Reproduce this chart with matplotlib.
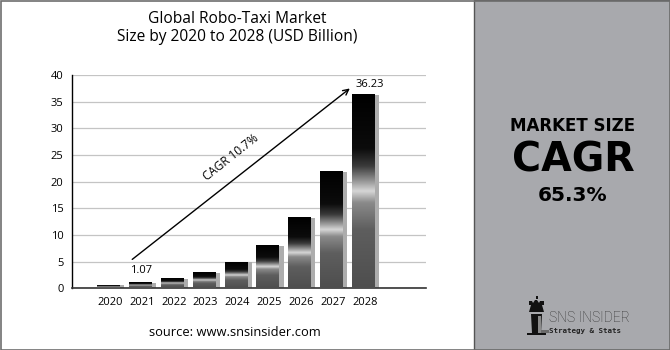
import matplotlib
matplotlib.use("Agg")
import matplotlib.pyplot as plt
import numpy as np
from matplotlib.colors import LinearSegmentedColormap
from matplotlib.patches import Rectangle, Polygon

years = ["2020", "2021", "2022", "2023", "2024", "2025", "2026", "2027", "2028"]
values = [0.55, 1.07, 1.8, 2.95, 4.85, 7.95, 13.2, 21.8, 36.23]
yticks = [0, 5, 10, 15, 20, 25, 30, 35, 40]

plt.rcParams['font.family'] = ['Open Sans', 'DejaVu Sans']

fig = plt.figure(figsize=(6.7, 3.5), dpi=100)
fig.patch.set_facecolor("white")

# right panel
fig.patches.append(Rectangle((474/670, 0), 1 - 474/670, 1, transform=fig.transFigure,
                             facecolor="#a8a9ad", edgecolor="#555555", lw=1.0, zorder=0))
# outer border
fig.patches.append(Rectangle((0.5/670, 0.5/350), 669/670, 349/350, transform=fig.transFigure,
                             facecolor="none", edgecolor="#6e6e6e", lw=1.2, zorder=5))

ax = fig.add_axes([72/670, 61.7/350, 354/670, (275 - 61.7)/350])
ax.set_yticks(yticks)
ax.set_yticklabels([str(t) for t in yticks], fontsize=8)
ax.grid(axis="y", color="#c4c4c4", lw=0.9)
ax.set_axisbelow(True)
for s in ["top", "right"]:
    ax.spines[s].set_visible(False)
ax.spines["left"].set_color("black")
ax.spines["left"].set_linewidth(1.0)
ax.spines["bottom"].set_color("#333333")
ax.spines["bottom"].set_linewidth(1.2)
ax.tick_params(length=0, pad=6)

x = np.arange(len(years))
ax.set_xticks(x + 0.06)
ax.set_xticklabels(years, fontsize=8)

# shadows
ax.bar(x + 0.16, values, width=0.69, color="#adadad", zorder=2)

cmap = LinearSegmentedColormap.from_list("cyl", [
    (0.0, "#4e4e4e"), (0.3, "#5e5e5e"), (0.44, "#8a8a8a"), (0.5, "#d6d6d6"),
    (0.56, "#8c8c8c"), (0.63, "#3a3a3a"), (0.72, "#0c0c0c"), (1.0, "#000000")])
grad = np.linspace(0, 1, 256).reshape(-1, 1)
w = 0.69
for xi, v in zip(x, values):
    ax.imshow(grad, cmap=cmap, origin="lower", aspect="auto",
              extent=[xi - w/2, xi + w/2, 0, v], zorder=3, interpolation="bilinear")
ax.set_xlim(-1.13, 9.97)
ax.set_ylim(0, 40)

ax.annotate("", xy=(7.65, 37.8), xytext=(0.69, 5.1),
            arrowprops=dict(arrowstyle="->", color="black", lw=1.0, mutation_scale=10), zorder=4)
ax.text(3.85, 24.6, "CAGR 10.7%", rotation=38.5, ha="center", va="center", fontsize=8.5, zorder=4)
ax.text(1.03, 3.3, "1.07", ha="center", va="center", fontsize=8, zorder=4)
ax.text(8.2, 38.3, "36.23", ha="center", va="center", fontsize=8, zorder=4)

fig.text(237/670, 1 - 19/350, "Global Robo-Taxi Market", ha="center", va="center", fontsize=11.2)
fig.text(237/670, 1 - 37/350, "Size by 2020 to 2028 (USD Billion)", ha="center", va="center", fontsize=11.2)
fig.text(235/670, 1 - 332/350, "source: www.snsinsider.com", ha="center", va="center", fontsize=9.3)

cx = 573/670
fig.text(cx, 1 - 131/350, "MARKET SIZE", ha="center", va="baseline", fontsize=12, fontweight="bold",
         family=["DejaVu Sans"])
fig.text(cx, 1 - 172/350, "CAGR", ha="center", va="baseline", fontsize=28.5, fontweight="bold",
         family=["DejaVu Sans"])
fig.text(cx, 1 - 201/350, "65.3%", ha="center", va="baseline", fontsize=14.5, fontweight="bold",
         family=["DejaVu Sans"])

# logo text
fig.text(549/670, 1 - 318/350, "SNS INSIDER", ha="left", va="center", fontsize=10, color="#333333",
         family=["Roboto", "DejaVu Sans"], fontweight="light")
fig.text(549/670, 1 - 331/350, "Strategy & Stats", ha="left", va="center", fontsize=5.4, color="#222222",
         family=["DejaVu Sans Mono"], fontweight="bold")

# logo icon (rook-like figure)
def P(px, py):
    return (px/670, 1 - py/350)
icon_parts = [
    ([P(529, 312), P(544, 312), P(542, 305), P(531, 305)], "#111111"),
    ([P(529, 305), P(529, 301), P(532, 301), P(533, 303), P(535, 300), P(537, 300),
      P(539, 303), P(540, 301), P(544, 301), P(544, 305)], "#111111"),
    ([P(531, 314), P(542, 314), P(541, 333), P(532, 333)], "#111111"),
    ([P(527, 333), P(546, 333), P(546, 335), P(527, 335)], "#111111"),
    ([P(538, 316), P(541, 316), P(541, 333), P(538, 333)], "#8a8a8a"),
    ([P(541, 330), P(549, 330), P(549, 333), P(541, 333)], "#6a6a6a"),
]
for pts, col in icon_parts:
    fig.patches.append(Polygon(pts, closed=True, transform=fig.transFigure,
                               facecolor=col, edgecolor="none", zorder=3))
fig.patches.append(Rectangle((535.5/670, 1 - 299/350), 2/670, 3/350, transform=fig.transFigure,
                             facecolor="#111111", edgecolor="none", zorder=3))

fig.savefig("out.png", dpi=100)
